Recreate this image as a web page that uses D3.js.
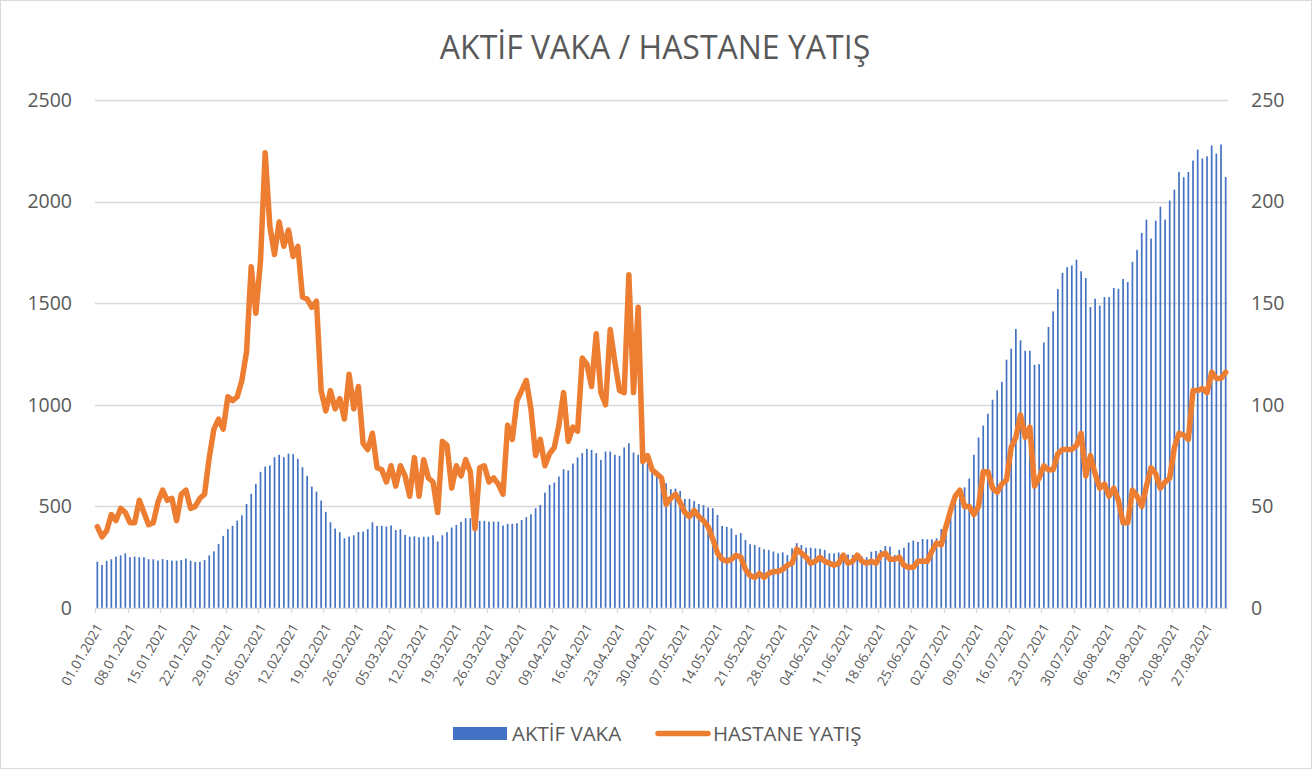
<!DOCTYPE html>
<html>
<head>
<meta charset="utf-8">
<script src="https://cdn.jsdelivr.net/npm/d3@7"></script>
<style>
html,body{margin:0;padding:0;background:#fff;}
svg{display:block;}
text{font-family:"Open Sans","Noto Sans",sans-serif;fill:#595959;}
</style>
</head>
<body>
<svg id="chart" width="1312" height="769"></svg>
<script>
// ---- DATA ----
const startDay = new Date(2021, 0, 1);
const endDay = new Date(2021, 8, 1); // exclusive -> 01.01.2021 .. 31.08.2021
const dates = d3.timeDay.range(startDay, endDay).map(d3.timeFormat("%d.%m.%Y"));

const aktifVaka = [
228,212,232,240,253,259,269,250,253,250,250,240,240,233,241,236,233,233,236,243,
233,227,227,236,259,279,315,355,388,404,430,456,512,562,611,670,696,701,742,754,
742,760,757,734,693,650,598,573,529,473,422,391,373,343,351,358,374,376,388,422,
404,404,401,406,384,388,360,351,353,348,351,351,358,327,358,373,396,409,424,442,
442,430,429,429,425,425,425,406,414,414,417,433,447,461,491,507,568,606,617,647,
683,677,711,741,762,783,778,762,729,770,770,754,749,790,811,765,754,745,713,680,
655,627,614,585,588,576,537,537,527,512,506,494,491,458,404,399,392,360,369,335,
314,310,299,289,286,278,269,274,261,294,319,310,297,297,294,291,286,269,269,273,
261,264,261,261,253,250,277,281,286,305,302,261,286,297,322,332,325,340,338,338,
343,388,425,483,548,581,594,637,754,839,898,956,1025,1071,1113,1222,1276,1373,1317,1266,
1266,1197,1200,1307,1383,1460,1570,1649,1677,1686,1714,1657,1624,1481,1522,1488,1530,1530,1575,1571,
1619,1604,1703,1763,1846,1911,1818,1906,1975,1911,2005,2059,2146,2120,2146,2202,2256,2212,2223,2276,
2236,2281,2121
];

const hastaneYatis = [
40,35,38,46,43,49,47,42,42,53,47,41,42,52,58,53,54,43,56,58,
49,50,54,56,74,88,93,88,104,102,104,112,126,168,145,171,224,188,174,190,
178,186,173,178,153,152,148,151,107,97,107,98,103,93,115,98,109,81,78,86,
69,68,62,70,60,70,65,55,74,55,73,64,62,47,82,80,59,70,65,73,
67,39,69,70,62,64,61,56,90,83,102,107,112,98,75,83,70,76,79,90,
106,82,89,87,123,120,109,135,106,100,137,121,107,106,164,106,148,72,75,68,
66,64,51,54,56,52,47,45,48,45,43,40,34,27,24,23,24,26,25,19,
16,15,17,15,17,18,18,19,21,22,29,27,25,22,23,25,23,22,21,22,
26,22,23,26,23,22,23,22,26,27,24,24,25,21,20,20,23,23,23,28,
32,31,40,48,55,58,50,50,46,50,67,67,59,57,61,63,79,84,95,84,
89,60,64,70,68,68,76,78,78,78,80,86,65,75,66,59,61,55,59,53,
42,42,58,55,50,60,69,66,59,62,64,79,86,85,83,107,107,108,106,116,
113,113,116
];

const leftTicks = [0, 500, 1000, 1500, 2000, 2500];
const rightTicks = [0, 50, 100, 150, 200, 250];
const labelEvery = 7;
const titleText = "AKTİF VAKA / HASTANE YATIŞ";
const seriesNames = ["AKTİF VAKA", "HASTANE YATIŞ"];

// ---- LAYOUT ----
const W = 1312, H = 769;
const plot = {left: 95, right: 1228, top: 100, bottom: 608};
const barColor = "#4472C4", lineColor = "#ED7D31", gridColor = "#d9d9d9";

const svg = d3.select("#chart");
svg.append("rect").attr("x",0.5).attr("y",0.5).attr("width",W-1).attr("height",H-1)
  .attr("fill","#fff").attr("stroke",gridColor);

const x = d3.scaleBand().domain(dates).range([plot.left, plot.right]).padding(0);
const yL = d3.scaleLinear().domain([0, 2500]).range([plot.bottom, plot.top]);
const yR = d3.scaleLinear().domain([0, 250]).range([plot.bottom, plot.top]);
const bw = x.bandwidth();

// title
svg.append("text").attr("x", 655).attr("y", 59).attr("text-anchor","middle")
  .style("font-size","32px").text(titleText);

// gridlines
svg.append("g").selectAll("line").data(leftTicks.filter(d=>d>0)).join("line")
  .attr("x1", plot.left).attr("x2", plot.right)
  .attr("y1", d=>Math.round(yL(d))+0.5).attr("y2", d=>Math.round(yL(d))+0.5)
  .attr("stroke", gridColor).attr("stroke-width",1.3);

// left axis
const gL = svg.append("g").attr("transform",`translate(${plot.left},0)`)
  .call(d3.axisLeft(yL).tickValues(leftTicks).tickFormat(d3.format("d")).tickSize(0).tickPadding(23));
gL.select(".domain").remove();
gL.selectAll("text").style("font-size","19.5px").attr("fill","#595959").attr("font-family",null);

// right axis
const gR = svg.append("g").attr("transform",`translate(${plot.right},0)`)
  .call(d3.axisRight(yR).tickValues(rightTicks).tickFormat(d3.format("d")).tickSize(0).tickPadding(23));
gR.select(".domain").remove();
gR.selectAll("text").style("font-size","19.5px").attr("fill","#595959").attr("font-family",null);

// bars
const bars = dates.map((d,i)=>({date:d, v:aktifVaka[i]}));
const barW = 1.7;
svg.append("g").selectAll("rect").data(bars).join("rect")
  .attr("x", d=>x(d.date)+bw/2-barW/2)
  .attr("width", barW)
  .attr("y", d=>yL(d.v))
  .attr("height", d=>plot.bottom - yL(d.v))
  .attr("fill", barColor);

// x axis line + ticks
svg.append("line").attr("x1",plot.left).attr("x2",plot.right)
  .attr("y1",plot.bottom+0.5).attr("y2",plot.bottom+0.5)
  .attr("stroke",gridColor).attr("stroke-width",1.3);
const tickDates = dates.filter((d,i)=>i%labelEvery===0);
svg.append("g").selectAll("line").data(tickDates).join("line")
  .attr("x1", d=>Math.round(x(d))+0.5).attr("x2", d=>Math.round(x(d))+0.5)
  .attr("y1", plot.bottom).attr("y2", plot.bottom+5)
  .attr("stroke", gridColor).attr("stroke-width",1.3);

// x labels
const gX = svg.append("g").attr("transform",`translate(0,${plot.bottom})`)
  .call(d3.axisBottom(x).tickValues(tickDates).tickSize(0).tickPadding(0));
gX.select(".domain").remove();
gX.selectAll("text")
  .attr("font-family",null)
  .style("font-size","13.5px").attr("fill","#595959")
  .attr("text-anchor","end").attr("dy",null).attr("y",null)
  .attr("transform","translate(6,19) rotate(-60)");

// line
const line = d3.line()
  .x((d,i)=>x(dates[i])+bw/2)
  .y(d=>yR(d));
svg.append("path").datum(hastaneYatis)
  .attr("d", line).attr("fill","none").attr("stroke",lineColor)
  .attr("stroke-width",5.5).attr("stroke-linejoin","round").attr("stroke-linecap","round");

// legend
const lg = svg.append("g");
lg.append("rect").attr("x",453).attr("y",727).attr("width",54).attr("height",13).attr("fill",barColor);
lg.append("text").attr("x",512).attr("y",741).style("font-size","20.5px").text(seriesNames[0]);
lg.append("line").attr("x1",658).attr("x2",708).attr("y1",733.5).attr("y2",733.5)
  .attr("stroke",lineColor).attr("stroke-width",5.5).attr("stroke-linecap","round");
lg.append("text").attr("x",713).attr("y",741).style("font-size","20.5px").text(seriesNames[1]);
</script>
</body>
</html>
